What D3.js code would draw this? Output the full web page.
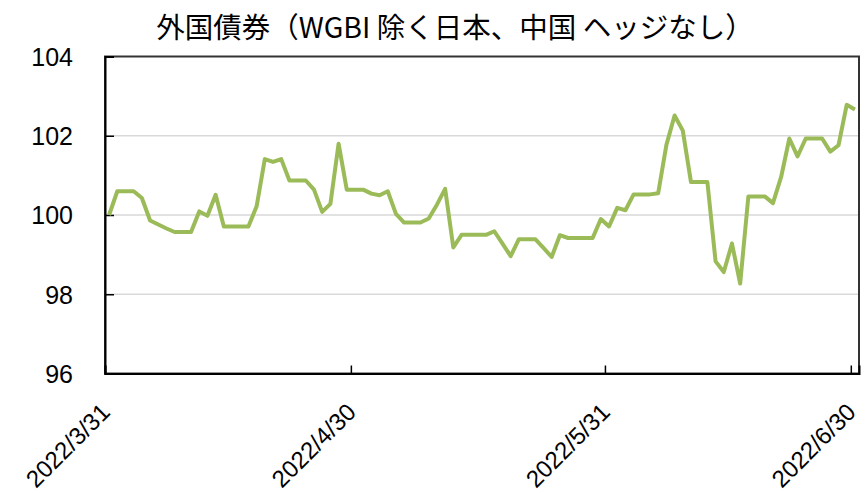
<!DOCTYPE html>
<html><head><meta charset="utf-8">
<script src="https://cdn.jsdelivr.net/npm/d3@7"></script>
<style>
body{margin:0;background:#fff;}
svg{display:block;}
</style></head>
<body>
<svg id="chart" width="864" height="499"></svg>
<script>
const title = "外国債券（WGBI 除く日本、中国 ヘッジなし）";
const dates = [
 "2022-03-31",
 "2022-04-01","2022-04-02","2022-04-03","2022-04-04","2022-04-05","2022-04-06","2022-04-07","2022-04-08","2022-04-09","2022-04-10",
 "2022-04-11","2022-04-12","2022-04-13","2022-04-14","2022-04-15","2022-04-16","2022-04-17","2022-04-18","2022-04-19","2022-04-20",
 "2022-04-21","2022-04-22","2022-04-23","2022-04-24","2022-04-25","2022-04-26","2022-04-27","2022-04-28","2022-04-29","2022-04-30",
 "2022-05-01","2022-05-02","2022-05-03","2022-05-04","2022-05-05","2022-05-06","2022-05-07","2022-05-08","2022-05-09","2022-05-10",
 "2022-05-11","2022-05-12","2022-05-13","2022-05-14","2022-05-15","2022-05-16","2022-05-17","2022-05-18","2022-05-19","2022-05-20",
 "2022-05-21","2022-05-22","2022-05-23","2022-05-24","2022-05-25","2022-05-26","2022-05-27","2022-05-28","2022-05-29","2022-05-30","2022-05-31",
 "2022-06-01","2022-06-02","2022-06-03","2022-06-04","2022-06-05","2022-06-06","2022-06-07","2022-06-08","2022-06-09","2022-06-10",
 "2022-06-11","2022-06-12","2022-06-13","2022-06-14","2022-06-15","2022-06-16","2022-06-17","2022-06-18","2022-06-19","2022-06-20",
 "2022-06-21","2022-06-22","2022-06-23","2022-06-24","2022-06-25","2022-06-26","2022-06-27","2022-06-28","2022-06-29","2022-06-30"
];
const values = [
 100.00,
 100.60,100.60,100.60,100.43,99.86,99.76,99.66,99.57,99.57,99.57,
 100.09,99.98,100.51,99.71,99.71,99.71,99.71,100.22,101.41,101.34,
 101.41,100.87,100.87,100.87,100.64,100.08,100.28,101.80,100.64,100.64,
 100.64,100.54,100.50,100.60,100.03,99.81,99.81,99.81,99.91,100.26,
 100.66,99.18,99.50,99.50,99.50,99.50,99.59,99.28,98.96,99.39,
 99.39,99.39,99.17,98.94,99.49,99.42,99.42,99.42,99.42,99.90,99.71,
 100.18,100.12,100.52,100.52,100.52,100.55,101.77,102.51,102.13,100.83,
 100.83,100.83,98.83,98.56,99.28,98.27,100.47,100.47,100.47,100.30,
 100.96,101.93,101.48,101.93,101.93,101.93,101.60,101.76,102.78,102.66
];
const xTickDates = ["2022-03-31","2022-04-30","2022-05-31","2022-06-30"];
const xTickLabels = ["2022/3/31","2022/4/30","2022/5/31","2022/6/30"];
const yTicks = [96,98,100,102,104];

const parse = d3.timeParse("%Y-%m-%d");
const data = dates.map((d,i)=>({date: parse(d), value: values[i]}));

const svg = d3.select("#chart");
const L=105, R=859, T=56.5, B=373.5;

const x = d3.scaleTime()
  .domain([parse("2022-03-31"), parse("2022-07-01")])
  .range([L, R]);
const y = d3.scaleLinear().domain([96,104]).range([B, T]);

// title
svg.append("text")
  .attr("x", 455).attr("y", 38)
  .attr("text-anchor","middle")
  .attr("font-family","'Noto Sans CJK JP', sans-serif")
  .attr("font-size", 28.5)
  .attr("fill","#000")
  .text(title);

// gridlines
svg.append("g").selectAll("line")
  .data(yTicks.filter(v=>v>96 && v<104))
  .join("line")
  .attr("x1", L).attr("x2", R)
  .attr("y1", d=>y(d)).attr("y2", d=>y(d))
  .attr("stroke","#d9d9d9").attr("stroke-width",1.5);

// border (top & right)
svg.append("rect")
  .attr("x", L).attr("y", T).attr("width", R-L).attr("height", B-T)
  .attr("fill","none").attr("stroke","#333").attr("stroke-width",2);

// y axis
const yAxis = d3.axisLeft(y).tickValues(yTicks).tickSize(-9).tickPadding(32).tickFormat(d3.format("d"));
const gy = svg.append("g").attr("transform",`translate(${L},0)`).call(yAxis);
gy.select(".domain").attr("stroke","#000").attr("stroke-width",2);
gy.selectAll(".tick line").attr("stroke","#000").attr("stroke-width",1.5);
gy.selectAll(".tick text")
  .attr("font-family","'Liberation Sans', Arial, sans-serif")
  .attr("font-size",25).attr("fill","#000")
  .attr("dy","0.35em");

// x axis
const xAxis = d3.axisBottom(x)
  .tickValues(xTickDates.map(parse))
  .tickSize(-8)
  .tickFormat((d,i)=>xTickLabels[i]);
const gx = svg.append("g").attr("transform",`translate(0,${B})`).call(xAxis);
gx.select(".domain").attr("stroke","#000").attr("stroke-width",2);
gx.selectAll(".tick line").attr("stroke","#000").attr("stroke-width",1.5);
gx.selectAll(".tick text")
  .attr("font-family","'Liberation Sans', Arial, sans-serif")
  .attr("font-size",24).attr("fill","#000")
  .attr("text-anchor","end")
  .attr("dy",0)
  .attr("transform","translate(6,40) rotate(-45)")
  .attr("y",0).attr("x",0);

// line
const line = d3.line()
  .x(d=>x(d3.timeHour.offset(d.date,12)))
  .y(d=>y(d.value));
svg.append("path")
  .datum(data)
  .attr("d", line)
  .attr("fill","none")
  .attr("stroke","#9bbb59")
  .attr("stroke-width",4)
  .attr("stroke-linejoin","round");
</script>
</body></html>
